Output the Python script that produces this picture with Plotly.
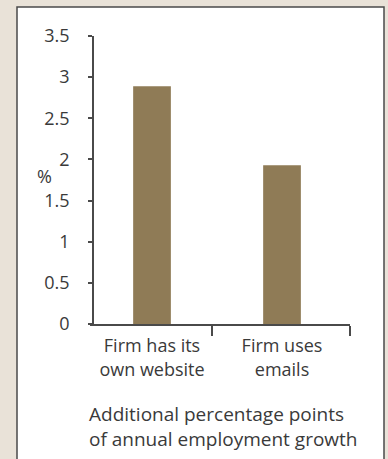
import plotly.graph_objects as go

categories = ["Firm has its<br>own website", "Firm uses<br>emails"]
values = [2.89, 1.93]
y_ticks = [0, 0.5, 1, 1.5, 2, 2.5, 3, 3.5]
y_tick_labels = ["0", "0.5", "1", "1.5", "2", "2.5", "3", "3.5"]
y_unit = "%"
footnote = "Additional percentage points<br>of annual employment growth"

BG = "#E9E2D8"
BAR = "#8F7B56"
TXT = "#3a3a3a"
AX = "#4a4a4a"
FONT = "Open Sans"

W, H = 388, 459
L, R, T, B = 90, 38, 36, 135
pw, ph = W - L - R, H - T - B

def px(x):
    return (x - L) / pw

def py(y):
    return (H - B - y) / ph

xpos = list(range(len(categories)))

fig = go.Figure()
fig.add_trace(go.Bar(x=xpos, y=values, marker=dict(color=BAR, line=dict(width=0)),
                     width=0.29, hoverinfo="skip"))

fig.add_shape(type="rect", xref="paper", yref="paper",
              x0=px(17), x1=px(384), y0=py(480), y1=py(7),
              fillcolor="white", line=dict(color=AX, width=1.5), layer="below")

fig.add_annotation(text=y_unit, xref="paper", yref="paper", x=px(35), y=py(176),
                   showarrow=False, font=dict(family=FONT, size=18, color=TXT))
fig.add_annotation(text=footnote, xref="paper", yref="paper", x=px(87), y=py(399),
                   xanchor="left", yanchor="top", align="left", showarrow=False,
                   font=dict(family=FONT, size=19, color=TXT))

fig.update_layout(
    width=W, height=H,
    margin=dict(l=L, r=R, t=T, b=B),
    paper_bgcolor=BG, plot_bgcolor="rgba(0,0,0,0)",
    showlegend=False,
    font=dict(family=FONT, size=18, color=TXT),
    xaxis=dict(range=[-0.477, 1.523], tickmode="array", tickvals=xpos, ticktext=categories,
               ticks="", showline=True, linecolor=AX, linewidth=1.5, showgrid=False,
               zeroline=False, ticklabelstandoff=5,
               tickfont=dict(family=FONT, size=18, color=TXT),
               minor=dict(tickmode="array", tickvals=[0.461, 1.523], ticks="outside",
                          ticklen=10, tickcolor=AX, tickwidth=1.5, showgrid=False)),
    yaxis=dict(range=[0, 3.5], tickmode="array", tickvals=y_ticks, ticktext=y_tick_labels,
               ticks="outside", ticklen=4, tickcolor=AX, tickwidth=1.5,
               showline=True, linecolor=AX, linewidth=1.5, showgrid=False, zeroline=False,
               anchor="free", position=3 / pw, ticklabelstandoff=15,
               tickfont=dict(family=FONT, size=18, color=TXT)),
)

fig.write_html("out.html", config={"displayModeBar": False},
               post_script="document.body.style.margin='0';document.body.style.background='%s';" % BG)
